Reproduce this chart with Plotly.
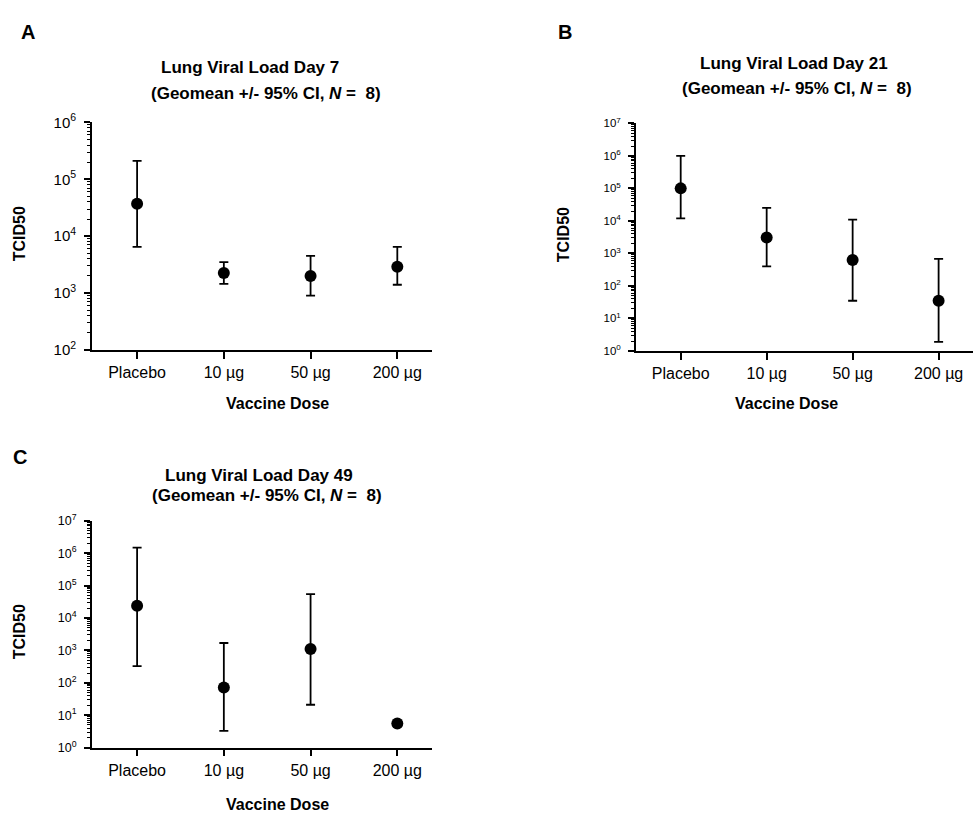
import plotly.graph_objects as go

# Vaccine dose groups
doses = ["Placebo", "10 µg", "50 µg", "200 µg"]

# Day 7 lung viral load (TCID50): geometric mean and 95% CI bounds
day7_mean = [3.7e4, 2.25e3, 2.0e3, 2.9e3]
day7_upper = [2.1e5, 3.5e3, 4.5e3, 6.5e3]
day7_lower = [6.5e3, 1.45e3, 9.0e2, 1.4e3]

# Day 21
day21_mean = [1.0e5, 3.1e3, 6.3e2, 35]
day21_upper = [1.0e6, 2.5e4, 1.1e4, 6.8e2]
day21_lower = [1.2e4, 4.0e2, 35, 1.9]

# Day 49 (200 µg group has no interval drawn)
day49_mean = [2.4e4, 72, 1.1e3, 5.5]
day49_upper = [1.5e6, 1.7e3, 5.5e4, 5.5]
day49_lower = [3.3e2, 3.3, 21, 5.5]

W, H = 975, 822
FONT = "Arial, Liberation Sans, sans-serif"


def fx(px):
    return px / W


def fy(py):
    return 1 - py / H


panels = [
    dict(letter="A", day=7, mean=day7_mean, up=day7_upper, lo=day7_lower,
         x0=92, x1=432, y0=114, y1=347, dec=(2, 6), tick_size=15,
         title_y=(58, 84), title_x=(250, 266), letter_xy=(28, 22),
         ytitle_x=19, xtitle_xy=(277, 402)),
    dict(letter="B", day=21, mean=day21_mean, up=day21_upper, lo=day21_lower,
         x0=636, x1=973, y0=115, y1=348, dec=(0, 7), tick_size=11.5,
         title_y=(54, 79), title_x=(794, 797), letter_xy=(565, 22),
         ytitle_x=563, xtitle_xy=(786, 402)),
    dict(letter="C", day=49, mean=day49_mean, up=day49_upper, lo=day49_lower,
         x0=92, x1=432, y0=522, y1=754, dec=(0, 7), tick_size=12.5,
         title_y=(475, 496), title_x=(259, 267), letter_xy=(20, 457),
         ytitle_x=19, xtitle_xy=(277, 812)),
]

fig = go.Figure()
annotations = []

for i, p in enumerate(panels, start=1):
    xa = "x" if i == 1 else f"x{i}"
    ya = "y" if i == 1 else f"y{i}"
    err_plus = [u - m for u, m in zip(p["up"], p["mean"])]
    err_minus = [m - l for m, l in zip(p["mean"], p["lo"])]
    fig.add_trace(go.Scatter(
        x=doses, y=p["mean"], mode="markers",
        marker=dict(color="black", size=12, line=dict(width=0)),
        error_y=dict(type="data", symmetric=False, array=err_plus,
                     arrayminus=err_minus, color="black", thickness=1.8,
                     width=4.5),
        xaxis=xa, yaxis=ya, showlegend=False,
    ))

    lo_d, hi_d = p["dec"]
    major = [10 ** k for k in range(lo_d, hi_d + 1)]
    major_txt = [f"10<sup>{k}</sup>" for k in range(lo_d, hi_d + 1)]
    minor = [m * 10 ** k for k in range(lo_d, hi_d) for m in range(2, 10)]

    cat_span = (p["x1"] - p["x0"])
    xaxis = dict(
        domain=[fx(p["x0"]), fx(p["x1"])], anchor=ya,
        type="category", range=[-0.52, 3.4],
        showline=True, linecolor="black", linewidth=1.8,
        ticks="outside", ticklen=7, tickwidth=1.5, tickcolor="black",
        tickfont=dict(family=FONT, size=16, color="black"),
        showgrid=False, zeroline=False, fixedrange=True,
    )
    yaxis = dict(
        domain=[fy(p["y1"]), fy(p["y0"])], anchor=xa,
        type="log", range=[lo_d, hi_d],
        tickmode="array", tickvals=major, ticktext=major_txt,
        showline=True, linecolor="black", linewidth=1.8,
        ticks="outside", ticklen=6, tickwidth=2, tickcolor="black",
        ticklabelstandoff=5,
        minor=dict(tickmode="array", tickvals=minor, ticks="outside",
                   ticklen=3, tickwidth=1.2, tickcolor="black", showgrid=False),
        tickfont=dict(family=FONT, size=p["tick_size"], color="black"),
        showgrid=False, zeroline=False, fixedrange=True,
    )
    fig.update_layout(**{("xaxis" if i == 1 else f"xaxis{i}"): xaxis,
                         ("yaxis" if i == 1 else f"yaxis{i}"): yaxis})

    # Panel letter
    annotations.append(dict(
        text=f"<b>{p['letter']}</b>", x=fx(p["letter_xy"][0]), y=fy(p["letter_xy"][1]),
        xref="paper", yref="paper", showarrow=False, xanchor="center", yanchor="middle",
        font=dict(family=FONT, size=20, color="black")))
    # Two-line panel title
    annotations.append(dict(
        text=f"<b>Lung Viral Load Day {p['day']}</b>",
        x=fx(p["title_x"][0]), y=fy(p["title_y"][0]),
        xref="paper", yref="paper", showarrow=False, xanchor="center", yanchor="middle",
        font=dict(family=FONT, size=17, color="black")))
    annotations.append(dict(
        text="<b>(Geomean +/- 95% CI, <i>N</i> =  8)</b>",
        x=fx(p["title_x"][1]), y=fy(p["title_y"][1]),
        xref="paper", yref="paper", showarrow=False, xanchor="center", yanchor="middle",
        font=dict(family=FONT, size=17, color="black")))
    # Axis titles
    annotations.append(dict(
        text="<b>TCID50</b>", x=fx(p["ytitle_x"]), y=fy((p["y0"] + p["y1"]) / 2 - 2),
        xref="paper", yref="paper", showarrow=False, textangle=-90,
        xanchor="center", yanchor="middle",
        font=dict(family=FONT, size=16, color="black")))
    annotations.append(dict(
        text="<b>Vaccine Dose</b>", x=fx(p["xtitle_xy"][0]), y=fy(p["xtitle_xy"][1]),
        xref="paper", yref="paper", showarrow=False, xanchor="center", yanchor="middle",
        font=dict(family=FONT, size=16, color="black")))

fig.update_layout(
    width=W, height=H,
    margin=dict(l=0, r=0, t=0, b=0),
    paper_bgcolor="white", plot_bgcolor="white",
    annotations=annotations,
    showlegend=False,
)

fig.write_html("out.html", config=dict(displayModeBar=False))
